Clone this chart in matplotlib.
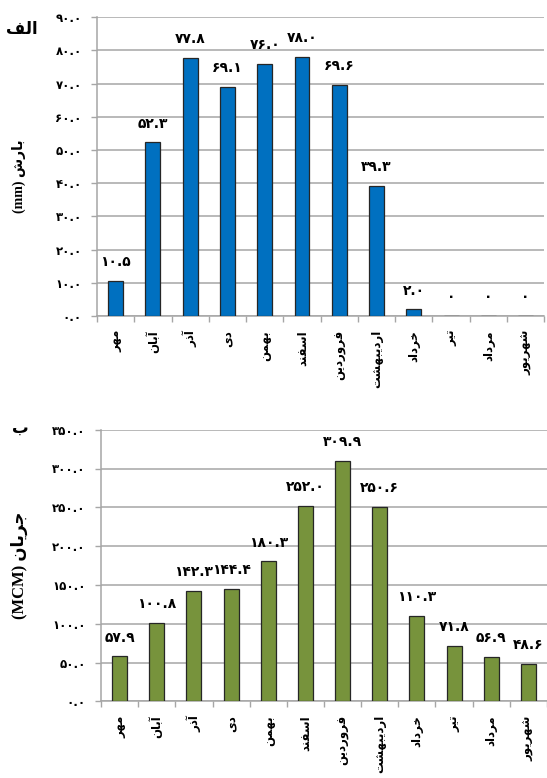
import matplotlib
matplotlib.use('Agg')
import matplotlib.pyplot as plt
from matplotlib.ticker import FixedLocator

# ---------------- data ----------------
months = ["مهر", "آبان", "آذر", "دی", "بهمن", "اسفند", "فروردین",
          "اردیبهشت", "خرداد", "تیر", "مرداد", "شهریور"]
rain_mm = [10.5, 52.3, 77.8, 69.1, 76.0, 78.0, 69.6, 39.3, 2.0, 0.0, 0.0, 0.0]
flow_mcm = [57.9, 100.8, 142.3, 144.4, 180.3, 252.0, 309.9, 250.6, 110.3, 71.8, 56.9, 48.6]
rain_ticks = [0, 10, 20, 30, 40, 50, 60, 70, 80, 90]
flow_ticks = [0, 50, 100, 150, 200, 250, 300, 350]
title_a = "الف"
title_b = "ب"
ylabel_a_fa, ylabel_a_unit = "بارش", "(mm)"
ylabel_b_fa, ylabel_b_unit = "جریان", "(MCM)"

# ---------------- simple Persian shaping ----------------
FORMS = {
    'ا': ('\uFE8D', '\uFE8E', None, None),
    'آ': ('\uFE81', '\uFE82', None, None),
    'ب': ('\uFE8F', '\uFE90', '\uFE91', '\uFE92'),
    'ت': ('\uFE95', '\uFE96', '\uFE97', '\uFE98'),
    'ج': ('\uFE9D', '\uFE9E', '\uFE9F', '\uFEA0'),
    'خ': ('\uFEA5', '\uFEA6', '\uFEA7', '\uFEA8'),
    'د': ('\uFEA9', '\uFEAA', None, None),
    'ذ': ('\uFEAB', '\uFEAC', None, None),
    'ر': ('\uFEAD', '\uFEAE', None, None),
    'س': ('\uFEB1', '\uFEB2', '\uFEB3', '\uFEB4'),
    'ش': ('\uFEB5', '\uFEB6', '\uFEB7', '\uFEB8'),
    'ف': ('\uFED1', '\uFED2', '\uFED3', '\uFED4'),
    'ل': ('\uFEDD', '\uFEDE', '\uFEDF', '\uFEE0'),
    'م': ('\uFEE1', '\uFEE2', '\uFEE3', '\uFEE4'),
    'ن': ('\uFEE5', '\uFEE6', '\uFEE7', '\uFEE8'),
    'ه': ('\uFEE9', '\uFEEA', '\uFEEB', '\uFEEC'),
    'و': ('\uFEED', '\uFEEE', None, None),
    'ی': ('\uFBFC', '\uFBFD', '\uFBFE', '\uFBFF'),
}


def shape(word):
    out = []
    n = len(word)
    for i, c in enumerate(word):
        f = FORMS.get(c)
        if f is None:
            out.append(c)
            continue
        prev = word[i - 1] if i > 0 else None
        nxt = word[i + 1] if i < n - 1 else None
        jp = prev in FORMS and FORMS[prev][2] is not None
        jn = (nxt in FORMS) and f[2] is not None
        if jp and jn:
            g = f[3]
        elif jp:
            g = f[1]
        elif jn:
            g = f[2]
        else:
            g = f[0]
        out.append(g)
    return ''.join(reversed(out))


FA_DIGITS = str.maketrans('0123456789', '۰۱۲۳۴۵۶۷۸۹')


def fa_num(v):
    if v == 0:
        return '۰'
    return f"{v:.1f}".translate(FA_DIGITS)


def fa_tick(v):
    return f"{v:.1f}".translate(FA_DIGITS)


# ---------------- figure ----------------
W, H = 547, 778
fig = plt.figure(figsize=(W / 100, H / 100), dpi=100)
fig.patch.set_facecolor('white')

GRID = '#A6A6A6'
EDGE = '#262626'
BASEFONT = ['DejaVu Sans']
LATIN = ['Liberation Serif', 'DejaVu Sans']


def style_axes(ax, values, ticks, color, ymax):
    x = list(range(len(values)))
    ax.bar(x, values, width=0.4, color=color, edgecolor=EDGE, linewidth=0.9, zorder=3)
    for xi, v in zip(x, values):
        ax.annotate(fa_num(v), (xi, v), xytext=(0, 13.5), textcoords='offset points',
                    ha='center', va='center', fontsize=10, fontweight='bold',
                    family=BASEFONT, zorder=4)
    ax.set_xlim(-0.5, len(values) - 0.5)
    ax.set_ylim(0, ymax)
    ax.set_yticks(ticks)
    ax.set_yticklabels([fa_tick(t) for t in ticks], fontsize=8.5, fontweight='bold',
                       family=BASEFONT)
    ax.set_xticks(x)
    ax.set_xticklabels([shape(m) for m in months], rotation=90, fontsize=8.5,
                       fontweight='bold', family=BASEFONT, va='top', ha='center')
    ax.xaxis.set_minor_locator(FixedLocator([i - 0.5 for i in range(len(values) + 1)]))
    ax.tick_params(axis='x', which='major', length=0, pad=10)
    ax.tick_params(axis='x', which='minor', length=4, color=GRID, width=1)
    ax.tick_params(axis='y', length=4, color=GRID, width=1, pad=7)
    ax.yaxis.grid(True, color=GRID, linewidth=1.1)
    ax.set_axisbelow(True)
    for s in ('top', 'right'):
        ax.spines[s].set_visible(False)
    for s in ('left', 'bottom'):
        ax.spines[s].set_color(GRID)
        ax.spines[s].set_linewidth(1.1)


ax1 = fig.add_axes([97 / W, 1 - 316 / H, 1 - 97 / W - 0.005, (316 - 17.3) / H])
style_axes(ax1, rain_mm, rain_ticks, '#0070C0', 90)

ax2 = fig.add_axes([101 / W, 1 - 701.3 / H, 1 - 101 / W, (701.3 - 429.7) / H])
style_axes(ax2, flow_mcm, flow_ticks, '#77933C', 350)

# panel letters
fig.text(22 / W, 1 - 29 / H, shape(title_a), fontsize=12, fontweight='bold',
         family=BASEFONT, ha='center', va='center')
fig.text(20 / W, 1 - 428 / H, shape(title_b), fontsize=12, fontweight='bold',
         family=BASEFONT, ha='center', va='center')

# y labels
fig.text(19 / W, 1 - 176 / H, ylabel_a_unit + ' ' + shape(ylabel_a_fa), rotation=90,
         fontsize=10, fontweight='bold', family=LATIN, ha='center', va='center')
fig.text(19 / W, 1 - 565 / H, ylabel_b_unit + ' ' + shape(ylabel_b_fa), rotation=90,
         fontsize=12, fontweight='bold', family=LATIN, ha='center', va='center')

fig.savefig('out.png', dpi=100, facecolor='white')
